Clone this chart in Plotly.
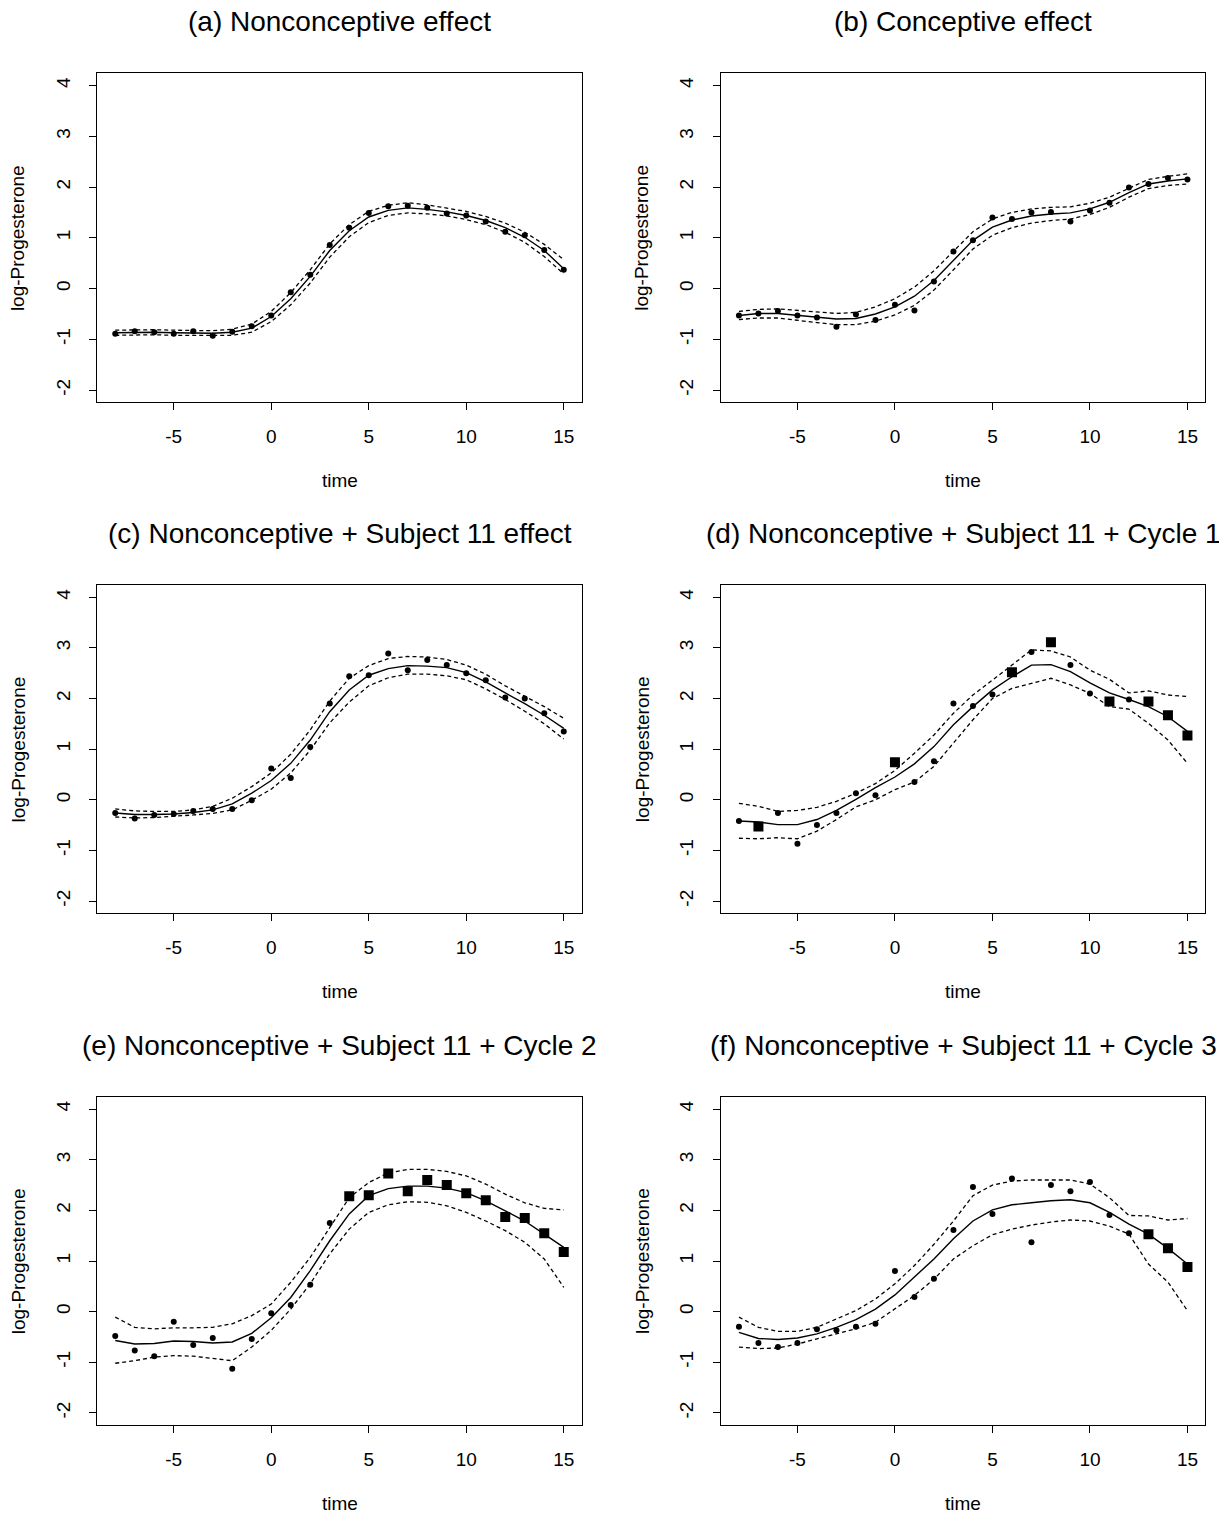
import plotly.graph_objects as go

# ---------------- data ----------------
time = list(range(-8, 16))
x_ticks = [-5, 0, 5, 10, 15]
x_tick_text = ["-5", "0", "5", "10", "15"]
y_ticks = [-2, -1, 0, 1, 2, 3, 4]
y_tick_text = ["-2", "-1", "0", "1", "2", "3", "4"]

titles = [
    "(a) Nonconceptive effect",
    "(b) Conceptive effect",
    "(c) Nonconceptive + Subject 11 effect",
    "(d) Nonconceptive + Subject 11 + Cycle 1",
    "(e) Nonconceptive + Subject 11 + Cycle 2",
    "(f) Nonconceptive + Subject 11 + Cycle 3",
]

# (a)
obs_a = [-0.89, -0.84, -0.86, -0.89, -0.84, -0.93, -0.85, -0.74, -0.53, -0.07, 0.27, 0.86,
         1.20, 1.49, 1.62, 1.63, 1.59, 1.48, 1.44, 1.32, 1.12, 1.05, 0.76, 0.37]
fit_a = [-0.87, -0.86, -0.86, -0.87, -0.87, -0.88, -0.86, -0.78, -0.55, -0.20, 0.24, 0.75,
         1.14, 1.41, 1.54, 1.59, 1.56, 1.51, 1.44, 1.34, 1.20, 1.01, 0.75, 0.39]
upp_a = [-0.82, -0.81, -0.81, -0.82, -0.82, -0.83, -0.80, -0.70, -0.45, -0.08, 0.37, 0.88,
         1.26, 1.52, 1.64, 1.69, 1.65, 1.59, 1.52, 1.42, 1.29, 1.11, 0.87, 0.57]
low_a = [-0.92, -0.91, -0.91, -0.92, -0.92, -0.93, -0.92, -0.86, -0.65, -0.32, 0.11, 0.62,
         1.02, 1.30, 1.44, 1.49, 1.47, 1.43, 1.36, 1.26, 1.11, 0.91, 0.63, 0.29]
sq_a = []

# (b)
obs_b = [-0.53, -0.49, -0.44, -0.53, -0.57, -0.75, -0.51, -0.62, -0.32, -0.43, 0.14, 0.73,
         0.95, 1.40, 1.37, 1.50, 1.51, 1.32, 1.54, 1.69, 1.99, 2.06, 2.18, 2.15]
fit_b = [-0.53, -0.49, -0.49, -0.53, -0.57, -0.60, -0.59, -0.50, -0.36, -0.15, 0.16, 0.55,
         0.95, 1.21, 1.35, 1.43, 1.47, 1.49, 1.57, 1.70, 1.89, 2.06, 2.12, 2.16]
upp_b = [-0.45, -0.41, -0.40, -0.43, -0.47, -0.49, -0.47, -0.36, -0.20, 0.03, 0.35, 0.73,
         1.12, 1.37, 1.50, 1.57, 1.60, 1.61, 1.68, 1.80, 1.98, 2.15, 2.21, 2.26]
low_b = [-0.61, -0.58, -0.58, -0.63, -0.67, -0.71, -0.71, -0.64, -0.52, -0.33, -0.03, 0.37,
         0.78, 1.05, 1.20, 1.29, 1.34, 1.37, 1.46, 1.60, 1.80, 1.97, 2.03, 2.06]
sq_b = []

# (c)
obs_c = [-0.26, -0.37, -0.30, -0.28, -0.22, -0.18, -0.18, -0.01, 0.62, 0.43, 1.04, 1.90,
         2.44, 2.46, 2.89, 2.56, 2.76, 2.66, 2.50, 2.36, 2.02, 2.00, 1.71, 1.35]
fit_c = [-0.26, -0.29, -0.29, -0.28, -0.25, -0.20, -0.08, 0.13, 0.38, 0.72, 1.18, 1.74,
         2.17, 2.46, 2.59, 2.65, 2.64, 2.61, 2.51, 2.33, 2.11, 1.90, 1.67, 1.41]
upp_c = [-0.18, -0.22, -0.23, -0.23, -0.20, -0.13, 0.03, 0.26, 0.53, 0.90, 1.38, 1.95,
         2.40, 2.65, 2.79, 2.83, 2.82, 2.77, 2.66, 2.48, 2.25, 2.05, 1.84, 1.61]
low_c = [-0.34, -0.36, -0.35, -0.33, -0.30, -0.27, -0.20, -0.01, 0.21, 0.53, 0.98, 1.52,
         1.93, 2.25, 2.41, 2.48, 2.48, 2.45, 2.37, 2.19, 1.98, 1.75, 1.50, 1.20]
sq_c = []

# (d)
obs_d = [-0.42, -0.53, -0.26, -0.87, -0.50, -0.26, 0.13, 0.09, 0.74, 0.35, 0.76, 1.90,
         1.85, 2.08, 2.52, 2.92, 3.11, 2.66, 2.10, 1.94, 1.98, 1.94, 1.67, 1.27]
fit_d = [-0.42, -0.44, -0.49, -0.49, -0.39, -0.21, 0.01, 0.24, 0.45, 0.71, 1.05, 1.48,
         1.84, 2.17, 2.43, 2.66, 2.67, 2.53, 2.31, 2.11, 1.98, 1.84, 1.64, 1.35]
upp_d = [-0.07, -0.13, -0.23, -0.21, -0.15, -0.03, 0.13, 0.32, 0.58, 0.92, 1.28, 1.71,
         2.07, 2.36, 2.66, 2.96, 2.94, 2.82, 2.56, 2.38, 2.11, 2.15, 2.07, 2.04]
low_d = [-0.76, -0.77, -0.75, -0.77, -0.62, -0.39, -0.14, 0.00, 0.20, 0.35, 0.66, 1.12,
         1.58, 2.00, 2.20, 2.30, 2.40, 2.27, 2.10, 1.84, 1.79, 1.51, 1.18, 0.72]
sq_d = [-7, 0, 6, 8, 11, 13, 14, 15]

# (e)
obs_e = [-0.48, -0.77, -0.88, -0.20, -0.66, -0.52, -1.13, -0.54, -0.03, 0.13, 0.53, 1.75,
         2.28, 2.30, 2.73, 2.38, 2.60, 2.50, 2.34, 2.20, 1.87, 1.85, 1.55, 1.18]
fit_e = [-0.57, -0.64, -0.63, -0.58, -0.59, -0.62, -0.60, -0.43, -0.12, 0.28, 0.81, 1.40,
         1.93, 2.29, 2.43, 2.48, 2.48, 2.44, 2.35, 2.19, 1.99, 1.79, 1.53, 1.27]
upp_e = [-0.11, -0.31, -0.34, -0.32, -0.32, -0.31, -0.24, -0.08, 0.15, 0.58, 1.07, 1.66,
         2.25, 2.55, 2.74, 2.81, 2.81, 2.77, 2.68, 2.52, 2.32, 2.15, 2.04, 2.01]
low_e = [-1.02, -0.97, -0.90, -0.87, -0.88, -0.93, -0.97, -0.70, -0.37, 0.05, 0.55, 1.14,
         1.63, 1.96, 2.11, 2.17, 2.16, 2.09, 1.96, 1.79, 1.60, 1.37, 1.04, 0.48]
sq_e = [4, 5, 6, 7, 8, 9, 10, 11, 12, 13, 14, 15]

# (f)
obs_f = [-0.30, -0.62, -0.70, -0.62, -0.35, -0.37, -0.30, -0.24, 0.80, 0.29, 0.65, 1.61,
         2.46, 1.93, 2.63, 1.37, 2.50, 2.38, 2.56, 1.91, 1.55, 1.53, 1.25, 0.88]
fit_f = [-0.41, -0.53, -0.55, -0.52, -0.44, -0.31, -0.16, 0.05, 0.33, 0.68, 1.04, 1.44,
         1.79, 2.01, 2.11, 2.15, 2.19, 2.21, 2.15, 1.96, 1.73, 1.53, 1.25, 0.94]
upp_f = [-0.11, -0.31, -0.39, -0.39, -0.31, -0.14, 0.02, 0.25, 0.55, 0.91, 1.33, 1.79,
         2.29, 2.50, 2.58, 2.60, 2.60, 2.60, 2.52, 2.25, 1.90, 1.89, 1.81, 1.84]
low_f = [-0.70, -0.73, -0.72, -0.64, -0.54, -0.44, -0.34, -0.21, 0.05, 0.32, 0.64, 1.04,
         1.30, 1.52, 1.63, 1.71, 1.77, 1.81, 1.79, 1.69, 1.53, 0.94, 0.58, 0.02]
sq_f = [13, 14, 15]

panels = [
    (obs_a, fit_a, upp_a, low_a, sq_a),
    (obs_b, fit_b, upp_b, low_b, sq_b),
    (obs_c, fit_c, upp_c, low_c, sq_c),
    (obs_d, fit_d, upp_d, low_d, sq_d),
    (obs_e, fit_e, upp_e, low_e, sq_e),
    (obs_f, fit_f, upp_f, low_f, sq_f),
]

# ---------------- layout geometry ----------------
# The page body keeps its default 8px margin, so the figure starts at (8, 8).
OFF = 8
W, H = 1227 - OFF, 1516 - OFF
# page-pixel positions of the plot boxes
col_px = [(97.3, 581.7), (721.0, 1205.4)]
row_px = [(73.3, 402.3), (585.1, 913.2), (1097.0, 1425.0)]
FONT = "Liberation Sans, Arial, Helvetica, sans-serif"
TICK_SIZE = 19
TITLE_SIZE = 28


def fx(px):
    return (px - OFF) / W


def fy(py):
    return 1 - (py - OFF) / H


fig = go.Figure()
annotations = []
layout_axes = {}

for i, (obs, fit, upp, low, sq) in enumerate(panels):
    n = i + 1
    r, c = divmod(i, 2)
    xa = "x" if n == 1 else f"x{n}"
    ya = "y" if n == 1 else f"y{n}"
    dot_t = [t for t in time if t not in sq]
    dot_v = [v for t, v in zip(time, obs) if t not in sq]
    sq_t = [t for t in time if t in sq]
    sq_v = [v for t, v in zip(time, obs) if t in sq]

    for band in (upp, low):
        fig.add_trace(go.Scatter(x=time, y=band, mode="lines", xaxis=xa, yaxis=ya,
                                 line=dict(color="black", width=1.3, dash="4px,3px"),
                                 showlegend=False, hoverinfo="skip"))
    fig.add_trace(go.Scatter(x=time, y=fit, mode="lines", xaxis=xa, yaxis=ya,
                             line=dict(color="black", width=1.4),
                             showlegend=False))
    fig.add_trace(go.Scatter(x=dot_t, y=dot_v, mode="markers", xaxis=xa, yaxis=ya,
                             marker=dict(color="black", size=6, symbol="circle"),
                             showlegend=False))
    if sq_t:
        fig.add_trace(go.Scatter(x=sq_t, y=sq_v, mode="markers", xaxis=xa, yaxis=ya,
                                 marker=dict(color="black", size=10, symbol="square"),
                                 showlegend=False))

    x0, x1 = col_px[c]
    y0, y1 = row_px[r]
    common = dict(showline=True, linecolor="black", linewidth=1, mirror=True,
                  ticks="outside", ticklen=7, tickwidth=1, tickcolor="black",
                  showgrid=False, zeroline=False,
                  tickfont=dict(family=FONT, size=TICK_SIZE, color="black"))
    layout_axes["xaxis" if n == 1 else f"xaxis{n}"] = dict(
        domain=[fx(x0), fx(x1)], range=[-8.92, 15.92],
        tickvals=x_ticks, ticktext=x_tick_text, anchor=ya,
        ticklabelstandoff=10, **common)
    layout_axes["yaxis" if n == 1 else f"yaxis{n}"] = dict(
        domain=[fy(y1), fy(y0)], range=[-2.24, 4.24],
        tickvals=y_ticks, ticktext=y_tick_text, tickangle=-90,
        anchor=xa, ticklabelstandoff=12, **common)

    xc = (x0 + x1) / 2
    # panel title
    annotations.append(dict(text=titles[i], xref="paper", yref="paper",
                            x=fx(xc), y=fy(y0 - 52), xanchor="center", yanchor="middle",
                            showarrow=False, font=dict(family=FONT, size=TITLE_SIZE, color="black")))
    # x-axis label
    annotations.append(dict(text="time", xref="paper", yref="paper",
                            x=fx(xc), y=fy(y1 + 78), xanchor="center", yanchor="middle",
                            showarrow=False, font=dict(family=FONT, size=TICK_SIZE, color="black")))
    # y-axis label
    annotations.append(dict(text="log-Progesterone", xref="paper", yref="paper",
                            x=fx(x0 - 79), y=fy((y0 + y1) / 2),
                            xanchor="center", yanchor="middle", textangle=-90,
                            showarrow=False, font=dict(family=FONT, size=TICK_SIZE, color="black")))

fig.update_layout(width=W, height=H, margin=dict(l=0, r=0, t=0, b=0),
                  paper_bgcolor="white", plot_bgcolor="white",
                  annotations=annotations, **layout_axes)

fig.write_html("out.html")
